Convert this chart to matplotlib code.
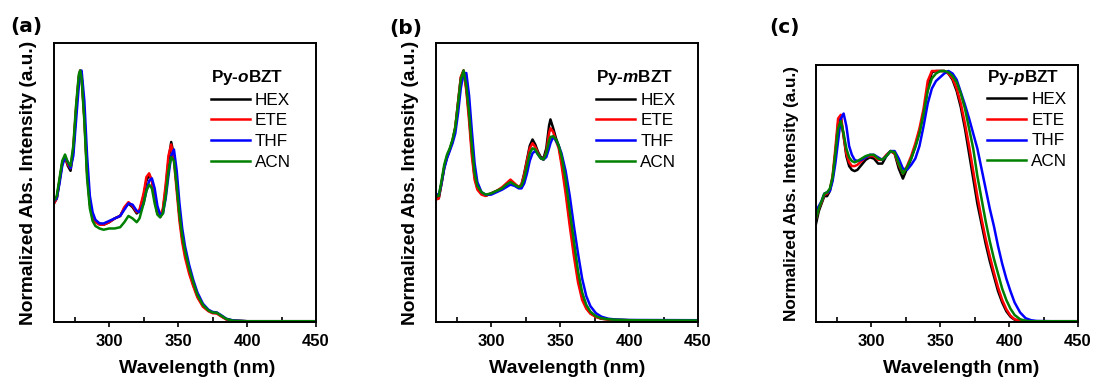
import numpy as np
import matplotlib
matplotlib.use("Agg")
import matplotlib.pyplot as plt
from matplotlib.ticker import MultipleLocator

plt.rcParams['font.family'] = ['Liberation Sans', 'DejaVu Sans']
plt.rcParams['font.weight'] = 'bold'
plt.rcParams['axes.labelweight'] = 'bold'
plt.rcParams['mathtext.fontset'] = 'custom'
plt.rcParams['mathtext.it'] = 'Liberation Sans:italic:bold'
plt.rcParams['mathtext.rm'] = 'Liberation Sans:bold'

# ---------------- data ----------------
solvents = ['HEX', 'ETE', 'THF', 'ACN']
colors = ['#000000', '#ff0000', '#0000ff', '#008000']
titles = ['Py-$o$BZT', 'Py-$m$BZT', 'Py-$p$BZT']
panel_tags = ['(a)', '(b)', '(c)']

# panel (a) Py-oBZT
wl_a = [260, 262, 264, 266, 268, 270, 272, 274, 276, 278, 279, 280, 282, 284, 286,
        288, 290, 293, 296, 300, 304, 308, 311, 314, 317, 320, 322, 325, 327, 329,
        331, 333, 335, 337, 339, 341, 343, 345, 347, 349, 351, 353, 355, 358, 361,
        364, 368, 372, 375, 378, 381, 385, 390, 400, 450]
hex_a = [0.47, 0.49, 0.56, 0.63, 0.655, 0.62, 0.60, 0.68, 0.84, 0.97, 1.00, 0.98, 0.82, 0.60, 0.47,
         0.42, 0.40, 0.39, 0.385, 0.395, 0.41, 0.42, 0.45, 0.47, 0.455, 0.43, 0.44, 0.50, 0.56, 0.585,
         0.56, 0.49, 0.43, 0.415, 0.44, 0.53, 0.64, 0.715, 0.66, 0.54, 0.42, 0.33, 0.27, 0.20, 0.145,
         0.10, 0.062, 0.042, 0.034, 0.033, 0.022, 0.008, 0.002, 0.0, 0.0]
ete_a = [0.47, 0.49, 0.56, 0.63, 0.655, 0.625, 0.61, 0.69, 0.85, 0.975, 1.00, 0.975, 0.81, 0.59, 0.465,
         0.415, 0.395, 0.385, 0.385, 0.395, 0.41, 0.42, 0.455, 0.475, 0.46, 0.435, 0.445, 0.51, 0.575, 0.59,
         0.56, 0.49, 0.43, 0.42, 0.45, 0.545, 0.66, 0.705, 0.64, 0.52, 0.40, 0.315, 0.255, 0.19, 0.14,
         0.095, 0.058, 0.04, 0.032, 0.031, 0.02, 0.007, 0.002, 0.0, 0.0]
thf_a = [0.48, 0.49, 0.55, 0.62, 0.655, 0.635, 0.61, 0.66, 0.80, 0.94, 0.99, 1.00, 0.88, 0.66, 0.50,
         0.435, 0.405, 0.39, 0.39, 0.40, 0.41, 0.42, 0.445, 0.47, 0.465, 0.44, 0.435, 0.47, 0.52, 0.56,
         0.57, 0.53, 0.46, 0.425, 0.43, 0.49, 0.58, 0.66, 0.685, 0.60, 0.47, 0.37, 0.30, 0.225, 0.165,
         0.115, 0.07, 0.046, 0.037, 0.035, 0.025, 0.01, 0.003, 0.0, 0.0]
acn_a = [0.48, 0.50, 0.57, 0.64, 0.665, 0.635, 0.62, 0.70, 0.86, 0.985, 1.00, 0.97, 0.80, 0.57, 0.45,
         0.40, 0.38, 0.37, 0.365, 0.37, 0.37, 0.375, 0.395, 0.42, 0.41, 0.395, 0.41, 0.47, 0.52, 0.545,
         0.53, 0.47, 0.425, 0.415, 0.43, 0.50, 0.60, 0.655, 0.64, 0.54, 0.425, 0.34, 0.28, 0.21, 0.155,
         0.105, 0.065, 0.043, 0.035, 0.034, 0.023, 0.009, 0.002, 0.0, 0.0]

# panel (b) Py-mBZT
wl_b = [260, 262, 264, 266, 268, 270, 272, 274, 276, 278, 280, 282, 284, 286, 288,
        290, 293, 296, 300, 304, 308, 311, 314, 317, 320, 322, 324, 326, 328, 330,
        332, 334, 336, 338, 340, 342, 343, 345, 347, 349, 351, 354, 357, 360, 363,
        366, 369, 372, 376, 380, 385, 390, 400, 450]
hex_b = [0.50, 0.49, 0.55, 0.615, 0.655, 0.685, 0.72, 0.77, 0.87, 0.97, 1.0, 0.93, 0.82, 0.68, 0.575,
         0.53, 0.51, 0.50, 0.51, 0.52, 0.53, 0.545, 0.56, 0.545, 0.535, 0.545, 0.59, 0.645, 0.70, 0.725,
         0.705, 0.675, 0.655, 0.65, 0.69, 0.78, 0.805, 0.77, 0.73, 0.70, 0.64, 0.53, 0.40, 0.28, 0.17,
         0.095, 0.055, 0.032, 0.018, 0.010, 0.007, 0.005, 0.004, 0.003]
ete_b = [0.485, 0.49, 0.55, 0.615, 0.655, 0.685, 0.72, 0.775, 0.875, 0.975, 1.0, 0.92, 0.80, 0.66, 0.565,
         0.525, 0.505, 0.50, 0.51, 0.52, 0.535, 0.55, 0.565, 0.55, 0.535, 0.545, 0.585, 0.64, 0.69, 0.71,
         0.695, 0.67, 0.65, 0.645, 0.675, 0.75, 0.77, 0.755, 0.72, 0.69, 0.625, 0.51, 0.38, 0.26, 0.155,
         0.085, 0.05, 0.03, 0.017, 0.010, 0.007, 0.005, 0.004, 0.003]
thf_b = [0.51, 0.50, 0.55, 0.61, 0.65, 0.68, 0.71, 0.75, 0.83, 0.93, 0.99, 0.99, 0.90, 0.76, 0.63,
         0.555, 0.515, 0.505, 0.505, 0.515, 0.525, 0.535, 0.545, 0.54, 0.53, 0.53, 0.55, 0.59, 0.64, 0.67,
         0.68, 0.665, 0.65, 0.645, 0.655, 0.69, 0.71, 0.736, 0.72, 0.70, 0.67, 0.60, 0.50, 0.38, 0.27,
         0.17, 0.10, 0.06, 0.032, 0.018, 0.01, 0.007, 0.005, 0.004]
acn_b = [0.50, 0.50, 0.56, 0.625, 0.665, 0.69, 0.725, 0.775, 0.87, 0.965, 1.0, 0.94, 0.83, 0.70, 0.59,
         0.54, 0.515, 0.505, 0.51, 0.52, 0.53, 0.545, 0.555, 0.545, 0.535, 0.54, 0.57, 0.62, 0.67, 0.69,
         0.685, 0.665, 0.65, 0.645, 0.67, 0.72, 0.735, 0.738, 0.725, 0.70, 0.66, 0.565, 0.44, 0.32, 0.20,
         0.115, 0.065, 0.038, 0.02, 0.012, 0.008, 0.006, 0.004, 0.003]

# panel (c) Py-pBZT
wl_c = [260, 262, 264, 266, 268, 270, 272, 274, 276, 278, 280, 282, 284, 286, 288,
        290, 293, 296, 299, 302, 305, 308, 311, 314, 317, 320, 323, 326, 329, 332,
        335, 338, 341, 344, 347, 350, 353, 356, 359, 362, 365, 368, 371, 374, 377,
        380, 383, 386, 389, 392, 395, 398, 401, 404, 408, 412, 416, 420, 430, 450]
hex_c = [0.39, 0.44, 0.47, 0.50, 0.50, 0.52, 0.57, 0.67, 0.79, 0.81, 0.74, 0.66, 0.62, 0.605, 0.60,
         0.605, 0.625, 0.645, 0.655, 0.65, 0.63, 0.63, 0.66, 0.68, 0.67, 0.61, 0.57, 0.61, 0.65, 0.70,
         0.76, 0.83, 0.93, 0.995, 1.0, 1.0, 1.0, 0.99, 0.965, 0.92, 0.855, 0.77, 0.67, 0.57, 0.47,
         0.39, 0.31, 0.24, 0.18, 0.12, 0.075, 0.04, 0.018, 0.006, 0.001, 0.0, 0.0, 0.0, 0.0, 0.0]
ete_c = [0.41, 0.45, 0.475, 0.505, 0.51, 0.525, 0.58, 0.69, 0.81, 0.825, 0.74, 0.67, 0.635, 0.62, 0.62,
         0.625, 0.64, 0.655, 0.66, 0.66, 0.645, 0.645, 0.665, 0.68, 0.67, 0.625, 0.59, 0.62, 0.66, 0.71,
         0.77, 0.85, 0.96, 1.0, 1.0, 1.0, 1.0, 0.99, 0.97, 0.93, 0.87, 0.79, 0.70, 0.60, 0.50,
         0.41, 0.33, 0.26, 0.195, 0.135, 0.085, 0.048, 0.022, 0.008, 0.002, 0.0, 0.0, 0.0, 0.0, 0.0]
thf_c = [0.44, 0.46, 0.48, 0.51, 0.515, 0.52, 0.56, 0.63, 0.72, 0.81, 0.83, 0.78, 0.70, 0.665, 0.645,
         0.64, 0.645, 0.655, 0.665, 0.665, 0.655, 0.645, 0.66, 0.68, 0.68, 0.65, 0.61, 0.605, 0.625, 0.65,
         0.70, 0.78, 0.87, 0.93, 0.96, 0.975, 0.99, 1.0, 0.99, 0.965, 0.915, 0.865, 0.81, 0.75, 0.69,
         0.61, 0.53, 0.45, 0.38, 0.30, 0.23, 0.17, 0.12, 0.075, 0.035, 0.012, 0.004, 0.001, 0.0, 0.0]
acn_c = [0.41, 0.45, 0.48, 0.51, 0.515, 0.53, 0.575, 0.67, 0.77, 0.80, 0.75, 0.69, 0.655, 0.64, 0.635,
         0.64, 0.65, 0.66, 0.665, 0.665, 0.65, 0.645, 0.66, 0.68, 0.675, 0.63, 0.59, 0.615, 0.65, 0.695,
         0.75, 0.83, 0.92, 0.97, 0.99, 1.0, 1.0, 0.995, 0.98, 0.955, 0.91, 0.85, 0.77, 0.69, 0.58,
         0.49, 0.40, 0.32, 0.25, 0.19, 0.13, 0.085, 0.05, 0.025, 0.008, 0.002, 0.0, 0.0, 0.0, 0.0]

panels = [
    (wl_a, [hex_a, ete_a, thf_a, acn_a]),
    (wl_b, [hex_b, ete_b, thf_b, acn_b]),
    (wl_c, [hex_c, ete_c, thf_c, acn_c]),
]

# ---------------- figure ----------------
fig = plt.figure(figsize=(10.93, 3.81), dpi=100)

# axes rectangles in figure fraction (left, bottom, width, height)
rects = [
    (0.0494, 0.1549, 0.2397, 0.7323),
    (0.3989, 0.1549, 0.2397, 0.7323),
    (0.7466, 0.1549, 0.2397, 0.6745),
]
ytops = [1.11, 1.11, 1.024]
ylab_size = [13.8, 13.8, 12.3]
xlab_x = [0.548, 0.5, 0.553]
leg_x = [0.598, 0.61, 0.652]
leg_y = [0.91, 0.91, 0.99]
tag_pos = [(0.0095, 0.93), (0.356, 0.925), (0.704, 0.928)]

for i, (wl, series) in enumerate(panels):
    ax = fig.add_axes(rects[i])
    for name, col, vals in zip(solvents, colors, series):
        ax.plot(wl, vals, color=col, lw=1.8, label=name)

    ax.set_xlim(260, 450)
    ax.set_ylim(-0.003, ytops[i])
    ax.set_yticks([])
    ax.xaxis.set_major_locator(MultipleLocator(50))
    ax.xaxis.set_minor_locator(MultipleLocator(25))
    ax.tick_params(axis='x', which='major', direction='out', length=3.5, width=1.2,
                   labelsize=12, pad=5)
    ax.tick_params(axis='x', which='minor', direction='in', length=3.5, width=1.2)
    ax.set_xticks([300, 350, 400, 450])
    for sp in ax.spines.values():
        sp.set_linewidth(1.4)

    ax.set_xlabel('Wavelength (nm)', fontsize=14, fontweight='bold', labelpad=8,
                  x=xlab_x[i])
    ax.set_ylabel('Normalized Abs. Intensity (a.u.)', fontsize=ylab_size[i],
                  fontweight='bold', labelpad=12)

    leg = ax.legend(loc='upper left', bbox_to_anchor=(leg_x[i], leg_y[i]), frameon=False,
                    title=titles[i], alignment='left',
                    prop={'weight': 'normal', 'size': 12.3},
                    title_fontproperties={'weight': 'bold', 'size': 12.3},
                    handlelength=2.3, handletextpad=0.3, labelspacing=0.33,
                    borderaxespad=0, borderpad=0)
    for ln in leg.get_lines():
        ln.set_linewidth(1.8)

    fig.text(tag_pos[i][0], tag_pos[i][1], panel_tags[i], fontsize=14.5,
             fontweight='bold', family=['DejaVu Sans'], ha='left', va='center')

fig.savefig('out.png', dpi=100)
